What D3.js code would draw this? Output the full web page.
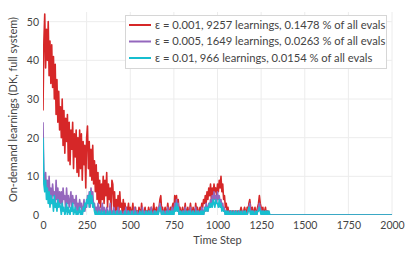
<!DOCTYPE html>
<html lang="en">
<head>
    <meta charset="UTF-8">
    <title>On-demand learnings</title>
    <script src="https://d3js.org/d3.v7.min.js"></script>
    <style>
        body { margin: 0; background: #fff; }
        text {
            font-family: Lato, "Liberation Sans", sans-serif;
            fill: #444;
        }
        .grid line { stroke: #ececec; stroke-width: 1; }
        .tick text { font-size: 10.5px; }
        .series { fill: none; stroke-width: 1.6; stroke-linejoin: round; }
        .legend-box { fill: #fff; stroke: #d6d6d6; stroke-width: 1; }
        .legend text { font-size: 11.2px; }
    </style>
</head>
<body>
<div id="chart"></div>
<script>
    const width = 415;
    const height = 256;

    // one value every 5 time steps, from step 0 to step 1300; all zero afterwards
    const stepSize = 5;
    const lastStep = 2000;

    const seriesNames = [
        "ε = 0.001, 9257 learnings, 0.1478 % of all evals",
        "ε = 0.005, 1649 learnings, 0.0263 % of all evals",
        "ε = 0.01, 966 learnings, 0.0154 % of all evals"
    ];
    const seriesColors = ["#d62728", "#9467bd", "#17becf"];

    const redValues = [
        27, 45, 52, 38, 48, 40, 50, 36, 45, 34, 44, 33, 41, 30, 39, 26, 35, 24, 32, 22,
        28, 20, 30, 18, 27, 16, 25, 19, 26, 14, 24, 13, 22, 17, 24, 12, 21, 15, 22, 11,
        20, 10, 22, 12, 21, 9, 19, 13, 18, 7, 20, 23, 12, 19, 10, 17, 9, 18, 8, 14,
        6, 13, 4, 11, 3, 9, 2, 8, 4, 10, 3, 9, 5, 11, 2, 8, 4, 7, 1, 9,
        8, 2, 6, 1, 4, 0, 5, 1, 6, 2, 3, 0, 4, 1, 3, 0, 2, 1, 3, 0,
        2, 0, 1, 3, 0, 1, 2, 0, 1, 0, 2, 1, 0, 3, 1, 0, 1, 2, 0, 1,
        0, 2, 1, 0, 2, 0, 1, 3, 0, 1, 2, 0, 1, 2, 4, 5, 1, 2, 0, 1,
        2, 0, 1, 3, 1, 0, 2, 1, 2, 3, 1, 5, 3, 5, 2, 4, 1, 2, 0, 1,
        2, 0, 1, 3, 0, 1, 2, 0, 1, 3, 1, 0, 2, 1, 0, 3, 1, 2, 0, 1,
        2, 1, 3, 2, 4, 3, 5, 3, 6, 4, 7, 5, 8, 4, 7, 5, 8, 6, 7, 5,
        8, 6, 9, 7, 10, 6, 8, 4, 5, 2, 3, 1, 2, 0, 1, 1, 0, 1, 1, 0,
        1, 1, 0, 1, 1, 0, 1, 2, 1, 0, 1, 2, 1, 0, 2, 1, 3, 4, 2, 1,
        2, 0, 1, 2, 0, 1, 2, 3, 5, 3, 2, 1, 2, 0, 1, 2, 0, 1, 1, 0, 0
    ];
    const purpleValues = [
        24, 10, 8, 11, 6, 9, 5, 10, 4, 7, 3, 8, 5, 6, 2, 9, 4, 7, 3, 6,
        3, 6, 2, 7, 4, 5, 1, 7, 3, 5, 2, 4, 6, 1, 5, 3, 4, 2, 5, 1,
        3, 1, 4, 2, 3, 0, 2, 4, 1, 3, 2, 5, 3, 6, 2, 7, 4, 6, 2, 3,
        1, 2, 0, 3, 1, 2, 0, 1, 3, 0, 2, 1, 0, 2, 1, 0, 1, 3, 0, 1,
        0, 2, 1, 0, 1, 0, 2, 0, 1, 0, 1, 0, 0, 1, 0, 2, 0, 1, 0, 0,
        1, 0, 0, 1, 0, 2, 0, 0, 1, 0, 0, 1, 0, 0, 2, 0, 1, 0, 0, 1,
        0, 0, 1, 0, 2, 0, 0, 1, 0, 1, 0, 0, 2, 1, 3, 2, 0, 1, 0, 0,
        1, 0, 0, 2, 0, 1, 0, 1, 2, 0, 1, 3, 2, 4, 1, 3, 0, 1, 0, 0,
        1, 0, 0, 2, 0, 0, 1, 0, 0, 2, 0, 0, 1, 0, 0, 2, 0, 1, 0, 0,
        1, 0, 2, 1, 0, 2, 1, 3, 2, 1, 3, 2, 4, 3, 5, 3, 6, 4, 5, 3,
        6, 4, 5, 3, 4, 2, 3, 1, 2, 0, 1, 0, 0, 1, 0, 0, 1, 0, 0, 1,
        0, 0, 1, 0, 0, 1, 0, 0, 0, 1, 0, 0, 1, 0, 0, 1, 2, 3, 1, 0,
        1, 0, 0, 1, 0, 0, 1, 2, 3, 2, 1, 0, 1, 0, 0, 1, 0, 1, 0, 0, 0
    ];
    const cyanValues = [
        20, 8, 6, 9, 4, 7, 3, 6, 2, 5, 3, 4, 1, 5, 2, 3, 1, 4, 2, 3,
        2, 0, 3, 1, 2, 0, 1, 3, 0, 2, 1, 0, 2, 1, 3, 0, 1, 2, 0, 1,
        0, 1, 2, 0, 1, 0, 2, 1, 3, 2, 4, 3, 5, 2, 6, 3, 5, 2, 3, 1,
        0, 1, 0, 0, 1, 0, 0, 1, 0, 0, 1, 0, 0, 0, 1, 0, 0, 1, 0, 0,
        0, 1, 0, 0, 0, 1, 0, 0, 0, 1, 0, 0, 0, 0, 1, 0, 0, 0, 1, 0,
        0, 0, 1, 0, 0, 0, 1, 0, 0, 0, 0, 1, 0, 0, 1, 0, 0, 0, 1, 0,
        0, 1, 0, 0, 1, 0, 0, 0, 1, 0, 0, 1, 0, 1, 2, 1, 0, 0, 1, 0,
        0, 0, 1, 0, 0, 1, 0, 1, 0, 1, 0, 2, 1, 3, 1, 2, 0, 0, 1, 0,
        0, 1, 0, 0, 1, 0, 0, 1, 0, 1, 0, 0, 1, 0, 0, 1, 0, 0, 1, 0,
        0, 1, 0, 1, 0, 1, 2, 1, 2, 1, 2, 3, 2, 3, 2, 4, 3, 2, 4, 3,
        3, 2, 4, 2, 3, 1, 2, 1, 1, 0, 1, 0, 1, 0, 0, 1, 0, 0, 1, 0,
        0, 1, 0, 0, 1, 0, 0, 1, 0, 0, 1, 0, 1, 0, 0, 1, 2, 1, 0, 1,
        0, 1, 0, 0, 1, 0, 1, 1, 2, 1, 0, 1, 0, 1, 0, 1, 0, 1, 0, 1, 0
    ];

    const xTicks = [0, 250, 500, 750, 1000, 1250, 1500, 1750, 2000];
    const yTicks = [0, 10, 20, 30, 40, 50];

    const margin = {top: 12, right: 23, bottom: 41, left: 43};
    const innerW = width - margin.left - margin.right;
    const innerH = height - margin.top - margin.bottom;

    const x = d3.scaleLinear().domain([0, lastStep]).range([0, innerW]);
    const y = d3.scaleLinear().domain([0, 52.5]).range([innerH, 0]);

    function toPoints(values) {
        const pts = values.map((v, i) => ({t: i * stepSize, v: v}));
        pts.push({t: lastStep, v: 0});
        return pts;
    }
    const allSeries = [redValues, purpleValues, cyanValues].map(toPoints);

    const svg = d3.select("#chart").append("svg")
        .attr("width", width).attr("height", height);
    const chart = svg.append("g")
        .attr("transform", `translate(${margin.left},${margin.top})`);

    // grid
    const grid = chart.append("g").attr("class", "grid");
    grid.selectAll("line.gx").data(xTicks.filter(d => d > 0)).enter().append("line")
        .attr("x1", d => x(d)).attr("x2", d => x(d))
        .attr("y1", 0).attr("y2", innerH);
    grid.selectAll("line.gy").data(yTicks.filter(d => d > 0)).enter().append("line")
        .attr("x1", 0).attr("x2", innerW)
        .attr("y1", d => y(d)).attr("y2", d => y(d));

    // lines
    chart.append("clipPath").attr("id", "plotclip")
        .append("rect").attr("width", innerW).attr("height", innerH);
    const line = d3.line().x(d => x(d.t)).y(d => y(d.v));
    chart.append("g").attr("clip-path", "url(#plotclip)")
        .selectAll("path").data(allSeries).enter().append("path")
        .attr("class", "series")
        .attr("stroke", (d, i) => seriesColors[i])
        .attr("d", line);

    // axes
    const xAxis = chart.append("g")
        .attr("transform", `translate(0,${innerH})`)
        .call(d3.axisBottom(x).tickValues(xTicks).tickFormat(d3.format("d"))
            .tickSize(0).tickPadding(7));
    xAxis.select(".domain").remove();

    const yAxis = chart.append("g")
        .call(d3.axisLeft(y).tickValues(yTicks).tickSize(0).tickPadding(4));
    yAxis.select(".domain").remove();

    chart.selectAll(".tick text").attr("fill", "#444");

    chart.append("text")
        .attr("x", innerW / 2).attr("y", innerH + 29)
        .attr("text-anchor", "middle")
        .attr("font-size", "11px")
        .text("Time Step");

    chart.append("text")
        .attr("transform", `translate(${-26},${innerH / 2 - 4}) rotate(-90)`)
        .attr("text-anchor", "middle")
        .attr("font-size", "11px")
        .text("On-demand learnings (DK, full system)");

    // legend
    const legend = svg.append("g").attr("class", "legend")
        .attr("transform", "translate(125,15)");
    legend.append("rect").attr("class", "legend-box")
        .attr("x", 0.5).attr("y", 0.5).attr("width", 261).attr("height", 53);
    const items = legend.selectAll("g.item").data(seriesNames).enter().append("g")
        .attr("transform", (d, i) => `translate(0,${10 + i * 16.5})`);
    items.append("line")
        .attr("x1", 4).attr("x2", 26).attr("y1", 0).attr("y2", 0)
        .attr("stroke", (d, i) => seriesColors[i]).attr("stroke-width", 2);
    items.append("text")
        .attr("x", 30).attr("y", 3.8)
        .text(d => d);
</script>
</body>
</html>
